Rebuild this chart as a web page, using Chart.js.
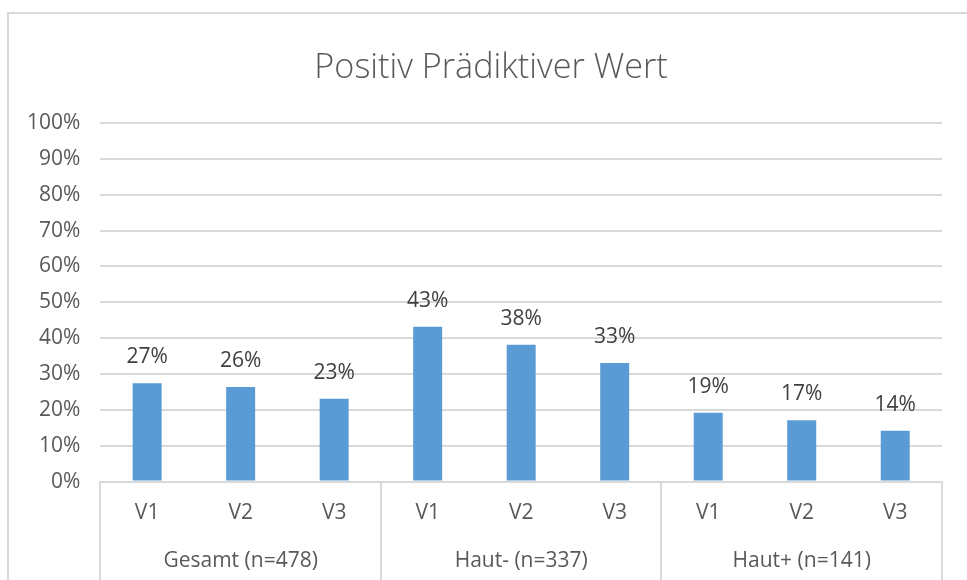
<!DOCTYPE html>
<html>
<head>
<meta charset="utf-8">
<script src="https://cdn.jsdelivr.net/npm/chart.js@4/dist/chart.umd.min.js"></script>
<style>
  html, body { margin: 0; padding: 0; background: #ffffff; }
  #wrap { position: relative; width: 967px; height: 580px; overflow: hidden; }
  #frame { position: absolute; left: 7px; top: 12px; width: 980px; height: 600px;
           border-left: 2px solid #d9d9d9; border-top: 2px solid #d9d9d9; box-sizing: border-box; }
  #c { position: absolute; left: 0; top: 0; }
</style>
</head>
<body>
<div id="wrap">
  <div id="frame"></div>
  <canvas id="c" width="967" height="580"></canvas>
</div>
<script>
// ---- Data ----
const titleText = "Positiv Prädiktiver Wert";
const categories = ["V1", "V2", "V3", "V1", "V2", "V3", "V1", "V2", "V3"];
const groups = ["Gesamt (n=478)", "Haut- (n=337)", "Haut+ (n=141)"];
const ppvValues = [27.4, 26.4, 23.1, 43.2, 38.2, 33.1, 19.2, 17.1, 14.2];
const yTicks = [0, 10, 20, 30, 40, 50, 60, 70, 80, 90, 100];

const FONT = "'Open Sans', 'DejaVu Sans', sans-serif";
const GRID = "#d9d9d9";

const valueLabels = {
  id: "valueLabels",
  afterDatasetsDraw(chart) {
    const ctx = chart.ctx;
    const meta = chart.getDatasetMeta(0);
    ctx.save();
    ctx.font = "21px " + FONT;
    ctx.fillStyle = "#404040";
    ctx.textAlign = "center";
    ctx.textBaseline = "alphabetic";
    meta.data.forEach((bar, i) => {
      ctx.fillText(Math.round(ppvValues[i]) + "%", bar.x, bar.y - 20);
    });
    ctx.restore();
  }
};

const groupDividers = {
  id: "groupDividers",
  afterDraw(chart) {
    const x = chart.scales.x;
    const ctx = chart.ctx;
    const per = categories.length / groups.length;
    ctx.save();
    ctx.strokeStyle = GRID;
    ctx.lineWidth = 2;
    for (let g = 0; g <= groups.length; g++) {
      const px = Math.round(x.getPixelForValue(g * per - 0.5));
      ctx.beginPath();
      ctx.moveTo(px, chart.chartArea.bottom);
      ctx.lineTo(px, chart.height);
      ctx.stroke();
    }
    ctx.restore();
  }
};

// centre the title on the outer chart frame rather than the padded area
const titleShift = {
  id: "titleShift",
  afterLayout(chart) {
    if (chart.titleBlock) chart.titleBlock.left += 33;
  }
};

new Chart(document.getElementById("c"), {
  type: "bar",
  data: {
    labels: categories,
    datasets: [{
      data: ppvValues,
      backgroundColor: "#5B9BD5",
      borderWidth: 0,
      categoryPercentage: 1.0,
      barPercentage: 0.31
    }]
  },
  options: {
    responsive: false,
    animation: false,
    layout: { padding: { left: 7, right: 25, top: 0, bottom: 2 } },
    plugins: {
      legend: { display: false },
      tooltip: { enabled: false },
      title: {
        display: true,
        text: titleText,
        color: "#595959",
        font: { family: FONT, size: 34.2, weight: 300 },
        padding: { top: 48, bottom: 34 }
      }
    },
    scales: {
      y: {
        min: 0,
        max: 100,
        afterBuildTicks(scale) { scale.ticks = yTicks.map(v => ({ value: v })); },
        ticks: {
          callback: v => v + "%",
          color: "#595959",
          font: { family: FONT, size: 21 },
          padding: 20
        },
        grid: { color: GRID, lineWidth: 2, drawTicks: false },
        border: { display: false }
      },
      x: {
        offset: true,
        ticks: {
          color: "#595959",
          font: { family: FONT, size: 21 },
          padding: 18.5,
          maxRotation: 0
        },
        grid: { display: false, drawTicks: false },
        border: { display: true, color: GRID, width: 2 }
      },
      x2: {
        type: "category",
        position: "bottom",
        labels: groups,
        offset: true,
        ticks: {
          color: "#595959",
          font: { family: FONT, size: 21 },
          padding: 4.5,
          maxRotation: 0
        },
        grid: { display: false, drawTicks: false },
        border: { display: false }
      }
    }
  },
  plugins: [valueLabels, groupDividers, titleShift]
});
</script>
</body>
</html>
